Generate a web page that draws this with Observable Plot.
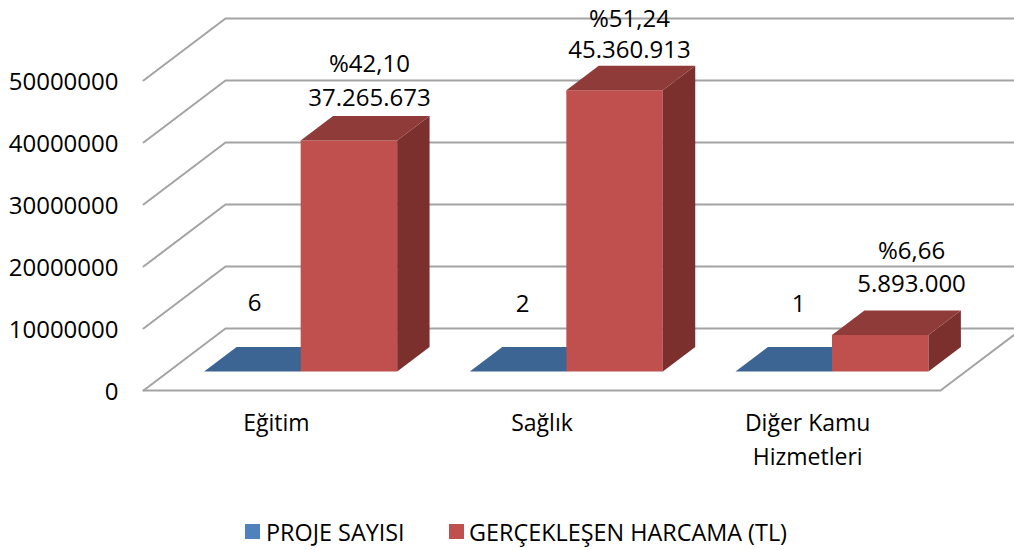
<!DOCTYPE html>
<html lang="tr">
<head>
<meta charset="utf-8">
<script src="https://cdn.jsdelivr.net/npm/d3@7"></script>
<script src="https://cdn.jsdelivr.net/npm/@observablehq/plot@0.6"></script>
<style>
html,body{margin:0;padding:0;background:#fff;overflow:hidden}
#chart svg{display:block}
#legend{position:relative;height:40px;font-family:"Open Sans",sans-serif;font-size:23.4px;color:#000;width:1014px}
#legend .sw{position:absolute;top:14px;width:15px;height:15px}
#legend .tx{position:absolute;top:7px;line-height:30px;white-space:nowrap}
</style>
</head>
<body>
<div id="chart"></div>
<div id="legend"></div>
<script>
const categories = ["Eğitim", "Sağlık", "Diğer Kamu\nHizmetleri"];
const projeSayisi = [6, 2, 1];
const harcama = [37265673, 45360913, 5893000];
const harcamaText = ["37.265.673", "45.360.913", "5.893.000"];
const payText = ["%42,10", "%51,24", "%6,66"];
const yTicks = [0, 10000000, 20000000, 30000000, 40000000, 50000000];
const seriesNames = ["PROJE SAYISI", "GERÇEKLEŞEN HARCAMA (TL)"];

// layout
const W = 1014, H = 510, ML = 143, MR = 74, MT = 80, MB = 120;
const catPx = (W - ML - MR) / 3, valPx = (H - MT - MB) / 50000000;
const depthX = 82 / catPx, depthY = 62 / valPx;      // full depth of the floor in data units
const barHalf = 96.5 / catPx, d0 = 19 / 62, d1 = 43.5 / 62, nudge = 0.8 / catPx;

const P = (x, v, d) => ({x: x + d * depthX, y: v + d * depthY});
const poly = (id, pts) => pts.map(p => ({id, ...p}));

// gridlines
const grid = yTicks.flatMap(v => poly("g" + v, [P(0, v, 0), P(0, v, 1), P(3, v, 1)]));
const floorEdge = poly("floor", [P(0, 0, 0), P(3, 0, 0), P(3, 0, 1)]);

// bar faces
const faces = {blueTop: [], redFront: [], redSide: [], redTop: []};
categories.forEach((_, i) => {
  const c = i + 0.5 - nudge, v = harcama[i];
  const b = projeSayisi[i];
  faces.blueTop.push(...poly("b" + i, [P(c - barHalf, b, d0), P(c, b, d0), P(c, b, d1), P(c - barHalf, b, d1)]));
  const r = c + barHalf;
  faces.redFront.push(...poly("f" + i, [P(c, 0, d0), P(r, 0, d0), P(r, v, d0), P(c, v, d0)]));
  faces.redSide.push(...poly("s" + i, [P(r, 0, d0), P(r, 0, d1), P(r, v, d1), P(r, v, d0)]));
  faces.redTop.push(...poly("t" + i, [P(c, v, d0), P(r, v, d0), P(r, v, d1), P(c, v, d1)]));
});

// data labels: hand-placed in the source chart
const pxX = px => (px - ML) / catPx;
const pxV = py => (H - MB - py) / valPx;
const redLabelX = [369, 629, 911], valY = [98, 50, 284], pctY = [64, 19, 251];
const blueLabelX = [254, 522, 798], blueY = [303, 304, 304];
const valueLabels = harcamaText.map((t, i) => ({t, x: pxX(redLabelX[i]), y: pxV(valY[i])}));
const pctLabels = payText.map((t, i) => ({t, x: pxX(redLabelX[i]), y: pxV(pctY[i])}));
const countLabels = projeSayisi.map((n, i) => ({t: String(n), x: pxX(blueLabelX[i]), y: pxV(blueY[i])}));

const gridStyle = {x: "x", y: "y", z: "id", stroke: "#a3a3a3", strokeWidth: 2};
const face = (rows, fill) => Plot.line(rows, {x: "x", y: "y", z: "id", fill, stroke: "none"});
const labels = rows => Plot.text(rows, {x: "x", y: "y", text: "t", fontSize: 24, fill: "#000", textAnchor: "middle", lineAnchor: "middle"});

const chart = Plot.plot({
  width: W, height: H,
  marginLeft: ML, marginRight: MR, marginTop: MT, marginBottom: MB,
  style: {fontFamily: '"Open Sans", sans-serif', fontSize: "24px", color: "#000", background: "#fff", overflow: "hidden"},
  x: {domain: [0, 3], label: null},
  y: {domain: [0, 50000000], label: null},
  marks: [
    Plot.line(grid, gridStyle),
    Plot.line(floorEdge, gridStyle),
    face(faces.blueTop, "#3d6594"),
    face(faces.redFront, "#c0504d"),
    face(faces.redSide, "#7c302e"),
    face(faces.redTop, "#8f3b39"),
    labels(countLabels),
    labels(valueLabels),
    labels(pctLabels),
    Plot.axisY({ticks: yTicks, tickFormat: d3.format("d"), tickSize: 0, tickPadding: 25, fontSize: 24, dy: 1.5, label: null}),
    Plot.axisX({ticks: [0.5, 1.5, 2.5], tickFormat: (d, i) => categories[i], tickSize: 0, tickPadding: 16, fontSize: 23, lineHeight: 1.5, label: null})
  ]
});
document.getElementById("chart").appendChild(chart);

const lg = document.getElementById("legend");
lg.innerHTML =
  `<span class="sw" style="left:245px;background:#4f81bd"></span><span class="tx" style="left:266px">${seriesNames[0]}</span>` +
  `<span class="sw" style="left:449px;background:#c0504d"></span><span class="tx" style="left:469px">${seriesNames[1]}</span>`;
</script>
</body>
</html>
